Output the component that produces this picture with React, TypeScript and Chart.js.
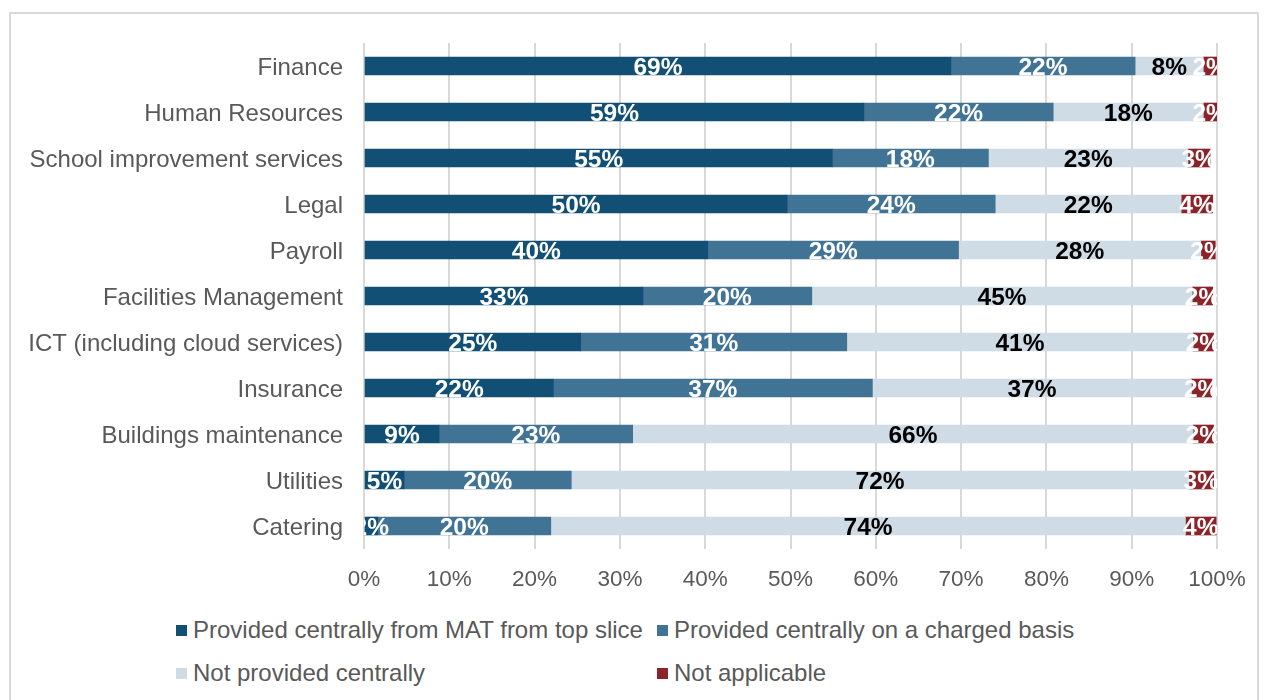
import React, { useEffect, useRef } from "react";
import { Chart, registerables } from "chart.js";

Chart.register(...registerables);

const categories = [
  "Finance",
  "Human Resources",
  "School improvement services",
  "Legal",
  "Payroll",
  "Facilities Management",
  "ICT (including cloud services)",
  "Insurance",
  "Buildings maintenance",
  "Utilities",
  "Catering",
];

const seriesNames = [
  "Provided centrally from MAT from top slice",
  "Provided centrally on a charged basis",
  "Not provided centrally",
  "Not applicable",
];

const topSlice = [68.8, 58.6, 54.9, 49.6, 40.3, 32.7, 25.4, 22.2, 8.8, 4.7, 1.6];
const charged = [21.6, 22.2, 18.3, 24.4, 29.4, 19.8, 31.2, 37.4, 22.7, 19.6, 20.3];
const notProvided = [8.0, 17.6, 23.4, 21.8, 28.4, 44.6, 40.6, 37.4, 65.7, 72.4, 74.4];
const notApplicable = [1.6, 1.6, 2.6, 3.7, 1.7, 2.4, 2.4, 2.4, 2.4, 2.9, 3.6];

const xTicks = [0, 10, 20, 30, 40, 50, 60, 70, 80, 90, 100];

const colors = ["#114f75", "#417395", "#cfdce5", "#8c2329"];
const labelColors = ["#ffffff", "#ffffff", "#000000", "#ffffff"];

const FONT = "'Liberation Sans', Arial, Helvetica, sans-serif";

const dataLabelPlugin = {
  id: "segLabels",
  afterDatasetsDraw(chart: any) {
    const ctx = chart.ctx;
    const area = chart.chartArea;
    ctx.save();
    ctx.beginPath();
    ctx.rect(area.left, area.top - 20, area.right - area.left, area.bottom - area.top + 40);
    ctx.clip();
    ctx.font = `bold 24.5px ${FONT}`;
    ctx.textAlign = "center";
    ctx.textBaseline = "middle";
    chart.data.datasets.forEach((ds: any, di: number) => {
      const meta = chart.getDatasetMeta(di);
      meta.data.forEach((bar: any, i: number) => {
        const v = ds.data[i];
        const cx = (bar.x + bar.base) / 2;
        ctx.fillStyle = labelColors[di];
        ctx.fillText(Math.round(v) + "%", cx, bar.y + 2);
      });
    });
    ctx.restore();
  },
};

export default function App() {
  const ref = useRef<HTMLCanvasElement | null>(null);

  useEffect(() => {
    const series = [topSlice, charged, notProvided, notApplicable];
    const chart = new Chart(ref.current as HTMLCanvasElement, {
      type: "bar",
      data: {
        labels: categories,
        datasets: series.map((d, i) => ({
          label: seriesNames[i],
          data: d,
          backgroundColor: colors[i],
          borderWidth: 0,
          barThickness: 18,
        })),
      },
      options: {
        indexAxis: "y",
        animation: false,
        responsive: false,
        layout: { padding: { top: 43, right: 49, left: 0, bottom: 0 } },
        plugins: {
          legend: { display: false },
          tooltip: { enabled: false },
        },
        scales: {
          x: {
            stacked: true,
            min: 0,
            max: 100,
            afterFit: (s: any) => {
              s.height = 51;
            },
            afterBuildTicks: (s: any) => {
              s.ticks = xTicks.map((v) => ({ value: v }));
            },
            grid: { color: "#d9d9d9", lineWidth: 2, drawTicks: false },
            border: { display: false },
            ticks: {
              padding: 17,
              color: "#595959",
              font: { family: FONT, size: 22.5 },
              callback: (v: any) => v + "%",
            },
          },
          y: {
            stacked: true,
            afterFit: (s: any) => {
              s.width = 364;
            },
            grid: { display: false, drawTicks: false },
            border: { display: false },
            ticks: {
              padding: 21,
              labelOffset: 2,
              color: "#595959",
              font: { family: FONT, size: 24 },
            },
          },
        },
      },
      plugins: [dataLabelPlugin],
    } as any);
    return () => chart.destroy();
  }, []);

  const legendItem = (i: number, left: number, top: number) => (
    <div
      key={i}
      style={{
        position: "absolute",
        left,
        top,
        display: "flex",
        alignItems: "center",
        height: 26,
        whiteSpace: "nowrap",
      }}
    >
      <div style={{ width: 11, height: 11, background: colors[i], marginRight: 6 }} />
      <span style={{ fontFamily: FONT, fontSize: 24, color: "#595959", lineHeight: "26px" }}>
        {seriesNames[i]}
      </span>
    </div>
  );

  return (
    <div
      style={{
        position: "fixed",
        left: 0,
        top: 0,
        width: 1266,
        height: 700,
        background: "#ffffff",
        overflow: "hidden",
      }}
    >
      <div
        style={{
          position: "absolute",
          left: 9,
          top: 12,
          width: 1246,
          height: 720,
          border: "2px solid #d9d9d9",
        }}
      />
      <canvas
        ref={ref}
        width={1266}
        height={600}
        style={{ position: "absolute", left: 0, top: 0, width: 1266, height: 600 }}
      />
      {legendItem(0, 176, 617)}
      {legendItem(1, 657, 617)}
      {legendItem(2, 176, 660)}
      {legendItem(3, 657, 660)}
    </div>
  );
}
